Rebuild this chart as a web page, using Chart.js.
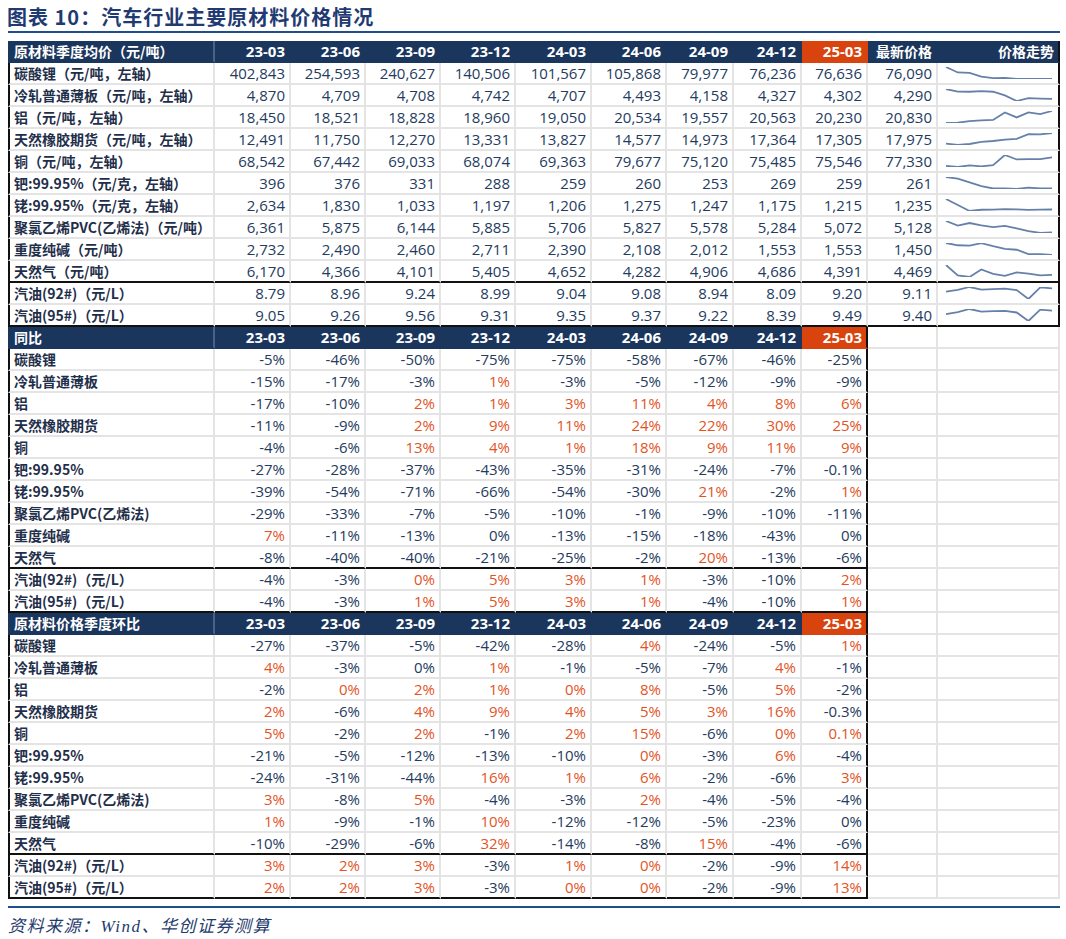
<!DOCTYPE html>
<html>
<head>
<meta charset="utf-8">
<script src="https://cdn.jsdelivr.net/npm/chart.js@4"></script>
<style>
  body { margin: 0; background: #fff; width: 1066px; height: 939px; position: relative; overflow: hidden; }
  #title { position: absolute; left: 7px; top: 2px; font: bold 20px "Noto Sans CJK SC", "Liberation Serif", sans-serif; color: #1f3b72; letter-spacing: 1px; }
  .rule { position: absolute; left: 8px; width: 1052px; height: 2px; background: #1f4e8c; }
  #source { position: absolute; left: 8px; top: 912px; font: italic 17px "Liberation Serif", "Noto Sans CJK SC", serif; color: #1f3b6e; letter-spacing: 1.5px; }
  table { position: absolute; left: 8px; top: 41px; border-collapse: separate; border-spacing: 0; table-layout: fixed; width: 1052px; }
  td { box-sizing: border-box; height: 22px; padding: 0 4px; white-space: nowrap; overflow: hidden;
       border-right: 2px solid #e4e4e4; border-bottom: 2px solid #e4e4e4;
       font: 15px "Open Sans", "Noto Sans CJK SC", sans-serif; color: #243b5e; text-align: right; line-height: 18px; }
  td.lab { text-align: left; font: bold 14px "Noto Sans CJK SC", "Open Sans", sans-serif; color: #1f2f4a; border-left: 2px solid #111; }
  td.pos { color: #e2541f; }
  tr.head td { background: #1b365d; color: #fff; font: bold 15px "Open Sans", "Noto Sans CJK SC", sans-serif; border-right-color: #1b365d; border-bottom-color: #1b365d; }
  tr.head td.lab { font: bold 14px "Noto Sans CJK SC", sans-serif; border-right-color: #4a6282; border-left-color: #1b365d; }
  tr.head td.cur { background: #d8430e; border-right-color: #d8430e; border-bottom-color: #d8430e; }
  tr.head td.blank { background: #fff; border-right-color: #e4e4e4; border-bottom-color: #e4e4e4; }
  tr.head td.hz { font: bold 14px "Noto Sans CJK SC", sans-serif; }
  td.spark { padding: 0; }
  td.spark div { width: 120px; height: 20px; }
  tr.sep td.box, tr.last td.box { border-bottom-color: #111; }
  td.rbox { border-right-color: #111 !important; }
</style>
</head>
<body>
<div id="title">图表 10：汽车行业主要原材料价格情况</div>
<div class="rule" style="top:31px"></div>
<table id="tbl">
  <colgroup>
    <col style="width:207px"><col style="width:76px"><col style="width:75px"><col style="width:75px"><col style="width:75px"><col style="width:76px"><col style="width:75px"><col style="width:67px"><col style="width:68px"><col style="width:66px"><col style="width:70px"><col style="width:122px">
  </colgroup>
  <tbody id="body"></tbody>
</table>
<div class="rule" style="top:906px"></div>
<div id="source">资料来源：Wind、华创证券测算</div>

<script>
// quarters shown in every section header
const quarters = ['23-03', '23-06', '23-09', '23-12', '24-03', '24-06', '24-09', '24-12', '25-03'];

// row labels
const priceLabels = [
  '碳酸锂（元/吨，左轴）', '冷轧普通薄板（元/吨，左轴）', '铝（元/吨，左轴）', '天然橡胶期货（元/吨，左轴）',
  '铜（元/吨，左轴）', '钯:99.95%（元/克，左轴）', '铑:99.95%（元/克，左轴）', '聚氯乙烯PVC(乙烯法)（元/吨）',
  '重度纯碱（元/吨）', '天然气（元/吨）', '汽油(92#)（元/L）', '汽油(95#)（元/L）'
];
const shortLabels = [
  '碳酸锂', '冷轧普通薄板', '铝', '天然橡胶期货', '铜', '钯:99.95%', '铑:99.95%',
  '聚氯乙烯PVC(乙烯法)', '重度纯碱', '天然气', '汽油(92#)（元/L）', '汽油(95#)（元/L）'
];

// quarterly average prices
const prices = [
  [402843, 254593, 240627, 140506, 101567, 105868, 79977, 76236, 76636],
  [4870, 4709, 4708, 4742, 4707, 4493, 4158, 4327, 4302],
  [18450, 18521, 18828, 18960, 19050, 20534, 19557, 20563, 20230],
  [12491, 11750, 12270, 13331, 13827, 14577, 14973, 17364, 17305],
  [68542, 67442, 69033, 68074, 69363, 79677, 75120, 75485, 75546],
  [396, 376, 331, 288, 259, 260, 253, 269, 259],
  [2634, 1830, 1033, 1197, 1206, 1275, 1247, 1175, 1215],
  [6361, 5875, 6144, 5885, 5706, 5827, 5578, 5284, 5072],
  [2732, 2490, 2460, 2711, 2390, 2108, 2012, 1553, 1553],
  [6170, 4366, 4101, 5405, 4652, 4282, 4906, 4686, 4391],
  [8.79, 8.96, 9.24, 8.99, 9.04, 9.08, 8.94, 8.09, 9.20],
  [9.05, 9.26, 9.56, 9.31, 9.35, 9.37, 9.22, 8.39, 9.49]
];
const latestPrices = [76090, 4290, 20830, 17975, 77330, 261, 1235, 5128, 1450, 4469, 9.11, 9.40];

// year-on-year change ('-0%' = rounded small negative, shown as 0%)
const yoyChange = [
  ['-5%', '-46%', '-50%', '-75%', '-75%', '-58%', '-67%', '-46%', '-25%'],
  ['-15%', '-17%', '-3%', '1%', '-3%', '-5%', '-12%', '-9%', '-9%'],
  ['-17%', '-10%', '2%', '1%', '3%', '11%', '4%', '8%', '6%'],
  ['-11%', '-9%', '2%', '9%', '11%', '24%', '22%', '30%', '25%'],
  ['-4%', '-6%', '13%', '4%', '1%', '18%', '9%', '11%', '9%'],
  ['-27%', '-28%', '-37%', '-43%', '-35%', '-31%', '-24%', '-7%', '-0.1%'],
  ['-39%', '-54%', '-71%', '-66%', '-54%', '-30%', '21%', '-2%', '1%'],
  ['-29%', '-33%', '-7%', '-5%', '-10%', '-1%', '-9%', '-10%', '-11%'],
  ['7%', '-11%', '-13%', '-0%', '-13%', '-15%', '-18%', '-43%', '-0%'],
  ['-8%', '-40%', '-40%', '-21%', '-25%', '-2%', '20%', '-13%', '-6%'],
  ['-4%', '-3%', '0%', '5%', '3%', '1%', '-3%', '-10%', '2%'],
  ['-4%', '-3%', '1%', '5%', '3%', '1%', '-4%', '-10%', '1%']
];

// quarter-on-quarter change
const qoqChange = [
  ['-27%', '-37%', '-5%', '-42%', '-28%', '4%', '-24%', '-5%', '1%'],
  ['4%', '-3%', '-0%', '1%', '-1%', '-5%', '-7%', '4%', '-1%'],
  ['-2%', '0%', '2%', '1%', '0%', '8%', '-5%', '5%', '-2%'],
  ['2%', '-6%', '4%', '9%', '4%', '5%', '3%', '16%', '-0.3%'],
  ['5%', '-2%', '2%', '-1%', '2%', '15%', '-6%', '0%', '0.1%'],
  ['-21%', '-5%', '-12%', '-13%', '-10%', '0%', '-3%', '6%', '-4%'],
  ['-24%', '-31%', '-44%', '16%', '1%', '6%', '-2%', '-6%', '3%'],
  ['3%', '-8%', '5%', '-4%', '-3%', '2%', '-4%', '-5%', '-4%'],
  ['1%', '-9%', '-1%', '10%', '-12%', '-12%', '-5%', '-23%', '-0%'],
  ['-10%', '-29%', '-6%', '32%', '-14%', '-8%', '15%', '-4%', '-6%'],
  ['3%', '2%', '3%', '-3%', '1%', '0%', '-2%', '-9%', '14%'],
  ['2%', '2%', '3%', '-3%', '0%', '0%', '-2%', '-9%', '13%']
];

const tbody = document.getElementById('body');

function cell(tr, text, cls) {
  const td = document.createElement('td');
  if (cls) td.className = cls;
  td.textContent = text;
  tr.appendChild(td);
  return td;
}

function fmtPrice(v) {
  return v < 100 ? v.toFixed(2) : v.toLocaleString('en-US');
}

// section header row
function addHeader(title, full) {
  const tr = document.createElement('tr');
  tr.className = 'head';
  cell(tr, title, 'lab');
  quarters.forEach((q, i) => {
    const last = i === quarters.length - 1;
    cell(tr, q, last ? 'cur' + (full ? '' : ' rbox') : '');
  });
  if (full) {
    cell(tr, '最新价格', 'hz');
    cell(tr, '价格走势', 'hz rbox');
  } else {
    cell(tr, '', 'blank');
    cell(tr, '', 'blank');
  }
  tbody.appendChild(tr);
}

const sparks = [];

// price section
addHeader('原材料季度均价（元/吨）', true);
prices.forEach((row, r) => {
  const tr = document.createElement('tr');
  if (r === 9) tr.className = 'sep';
  if (r === 11) tr.className = 'last';
  cell(tr, priceLabels[r], 'lab box');
  row.forEach(v => cell(tr, fmtPrice(v), 'box'));
  cell(tr, fmtPrice(latestPrices[r]), 'box');
  const td = cell(tr, '', 'spark box rbox');
  const div = document.createElement('div');
  const cv = document.createElement('canvas');
  cv.width = 120; cv.height = 20;
  div.appendChild(cv);
  td.appendChild(div);
  sparks.push({ cv, data: row.concat([latestPrices[r]]) });
  tbody.appendChild(tr);
});

// percentage sections
function addPctSection(title, rows) {
  addHeader(title, false);
  rows.forEach((row, r) => {
    const tr = document.createElement('tr');
    if (r === 9) tr.className = 'sep';
    if (r === 11) tr.className = 'last';
    cell(tr, shortLabels[r], 'lab box');
    row.forEach((s, i) => {
      const neg = s.startsWith('-');
      const td = cell(tr, s === '-0%' ? '0%' : s, 'box' + (neg ? '' : ' pos'));
      if (i === row.length - 1) td.classList.add('rbox');
    });
    cell(tr, '', '');
    cell(tr, '', '');
    tbody.appendChild(tr);
  });
}
addPctSection('同比', yoyChange);
addPctSection('原材料价格季度环比', qoqChange);

// sparklines
sparks.forEach(s => {
  new Chart(s.cv.getContext('2d'), {
    type: 'line',
    data: {
      labels: s.data.map((_, i) => i),
      datasets: [{
        data: s.data,
        borderColor: '#6681a9',
        borderWidth: 1.8,
        pointRadius: 0,
        tension: 0,
        fill: false
      }]
    },
    options: {
      responsive: false,
      animation: false,
      layout: { padding: { left: 8, right: 6, top: 4, bottom: 4 } },
      scales: {
        x: { display: false },
        y: { display: false, min: Math.min(...s.data), max: Math.max(...s.data) }
      },
      plugins: { legend: { display: false }, tooltip: { enabled: false } }
    }
  });
});
</script>
</body>
</html>
